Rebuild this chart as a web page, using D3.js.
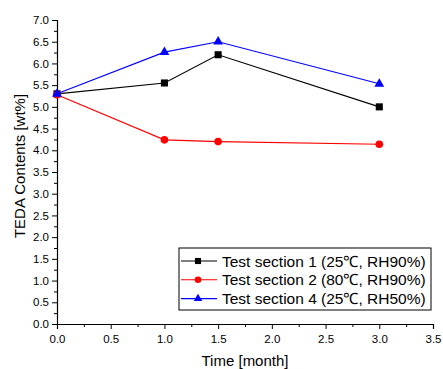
<!DOCTYPE html>
<html>
<head>
  <meta charset="utf-8">
  <script src="https://d3js.org/d3.v7.min.js"></script>
  <style>
    body { margin: 0; background: #fff; }
    text { font-family: "Liberation Sans", Arial, sans-serif; fill: #000; }
  </style>
</head>
<body>
<div id="chart"></div>
<script>
  // data
  var months = [0, 1.0, 1.5, 3.0];
  var section1 = [5.30, 5.55, 6.20, 5.00];
  var section2 = [5.28, 4.24, 4.20, 4.14];
  var section4 = [5.30, 6.26, 6.50, 5.53];
  var seriesNames = ["Test section 1 (25\u2103, RH90%)", "Test section 2 (80\u2103, RH90%)", "Test section 4 (25\u2103, RH50%)"];
  var xTicks = [0, 0.5, 1.0, 1.5, 2.0, 2.5, 3.0, 3.5];
  var yTicks = [0, 0.5, 1.0, 1.5, 2.0, 2.5, 3.0, 3.5, 4.0, 4.5, 5.0, 5.5, 6.0, 6.5, 7.0];

  var W = 443, H = 369;
  var margin = { top: 20, right: 10, bottom: 45, left: 57 };
  var width = 433 - margin.left, height = 324 - margin.top;

  var svg = d3.select("#chart").append("svg")
    .attr("width", W).attr("height", H);
  var g = svg.append("g")
    .attr("transform", "translate(" + margin.left + "," + margin.top + ")");

  var x = d3.scaleLinear().domain([0, 3.5]).range([0, width]);
  var y = d3.scaleLinear().domain([0, 7]).range([height, 0]);

  // minor ticks
  var xMinor = d3.range(0.25, 3.5, 0.5);
  var yMinor = d3.range(0.25, 7, 0.5);

  g.append("g").attr("transform", "translate(0," + height + ")")
    .call(d3.axisBottom(x).tickValues(xTicks).tickFormat(d3.format(".1f")).tickSize(5).tickPadding(6));
  g.append("g").attr("transform", "translate(0," + height + ")")
    .call(d3.axisBottom(x).tickValues(xMinor).tickFormat("").tickSize(3))
    .select(".domain").remove();
  g.append("g")
    .call(d3.axisLeft(y).tickValues(yTicks).tickFormat(d3.format(".1f")).tickSize(5).tickPadding(3));
  g.append("g")
    .call(d3.axisLeft(y).tickValues(yMinor).tickFormat("").tickSize(3))
    .select(".domain").remove();

  g.selectAll(".domain").attr("stroke", "#000").attr("stroke-width", 1.2);
  g.selectAll(".tick line").attr("stroke", "#000");
  g.selectAll(".tick text").attr("font-size", 11.5).attr("font-family", "Liberation Sans, Arial, sans-serif").attr("fill", "#222");

  // axis titles
  svg.append("text")
    .attr("x", 245).attr("y", 366)
    .attr("text-anchor", "middle").attr("font-size", 15)
    .text("Time [month]");
  svg.append("text")
    .attr("transform", "translate(25,166) rotate(-90)")
    .attr("text-anchor", "middle").attr("font-size", 15)
    .text("TEDA Contents [wt%]");

  var series = [
    { name: seriesNames[0], values: section1, color: "#000000", shape: d3.symbolSquare, size: 50 },
    { name: seriesNames[1], values: section2, color: "#ff0000", shape: d3.symbolCircle, size: 46 },
    { name: seriesNames[2], values: section4, color: "#0000ff", shape: d3.symbolTriangle, size: 42 }
  ];

  var line = d3.line()
    .x(function (d, i) { return x(months[i]); })
    .y(function (d) { return y(d); });

  series.forEach(function (s) {
    g.append("path").datum(s.values)
      .attr("fill", "none").attr("stroke", s.color).attr("stroke-width", 1.1)
      .attr("d", line);
    g.selectAll(null).data(s.values).enter().append("path")
      .attr("transform", function (d, i) { return "translate(" + x(months[i]) + "," + y(d) + ")"; })
      .attr("d", d3.symbol().type(s.shape).size(s.size))
      .attr("fill", s.color);
  });

  // legend
  var lg = svg.append("g").attr("transform", "translate(179,248)");
  lg.append("rect").attr("width", 252).attr("height", 62)
    .attr("fill", "#fff").attr("stroke", "#000").attr("stroke-width", 1);
  series.forEach(function (s, i) {
    var yy = 13 + i * 18.8;
    lg.append("line").attr("x1", 2).attr("x2", 38).attr("y1", yy).attr("y2", yy)
      .attr("stroke", s.color).attr("stroke-width", 1.1);
    lg.append("path").attr("transform", "translate(19," + yy + ")")
      .attr("d", d3.symbol().type(s.shape).size(s.size * 0.75)).attr("fill", s.color);
    lg.append("text").attr("x", 43).attr("y", yy + 5.5).attr("font-size", 15.5)
      .text(s.name);
  });
</script>
</body>
</html>
